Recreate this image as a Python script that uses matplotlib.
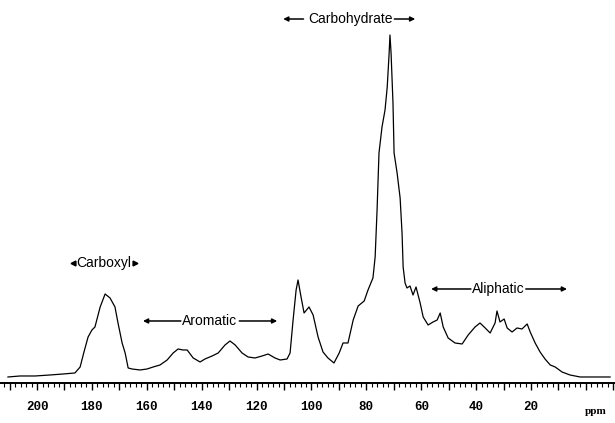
import numpy as np
import matplotlib
matplotlib.use("Agg")
import matplotlib.pyplot as plt
from matplotlib.ticker import MultipleLocator, FuncFormatter

# 13C NMR spectrum (ppm, relative intensity)
ppm = [210.6, 206.2, 200.7, 195.3, 190.5, 186.2, 184.3, 182.9, 181.4, 180.0,
       178.9, 177.0, 175.2, 173.4, 171.6, 170.5, 169.0, 167.9, 166.8, 165.4,
       162.5, 159.9, 157.7, 155.2, 152.6, 150.4, 148.6, 146.8, 145.3, 143.1,
       140.6, 138.8, 136.2, 134.0, 131.5, 129.7, 127.8, 125.3, 123.1, 120.6,
       118.0, 115.8, 113.3, 111.4, 108.9, 107.8, 106.7, 105.6, 104.9, 103.8,
       102.7, 100.9, 99.4, 97.6, 95.8, 94.0, 91.8, 89.9, 88.5, 86.7,
       84.8, 83.0, 80.8, 79.4, 77.6, 76.8, 76.1, 75.4, 74.3, 73.2,
       72.4, 71.7, 71.4, 71.0, 70.3, 69.9, 68.8, 67.7, 67.0, 66.6,
       65.9, 65.2, 64.1, 63.0, 61.9, 60.4, 59.3, 57.5, 55.7, 54.2,
       53.1, 52.0, 50.2, 47.7, 45.1, 42.9, 40.4, 38.6, 36.7, 34.9,
       33.1, 32.4, 31.3, 29.8, 28.7, 26.9, 25.1, 23.3, 21.4, 20.3,
       18.5, 16.7, 14.9, 13.0, 11.2, 8.7, 5.8, 2.1, -2.6, -8.8]
intensity = [1, 2, 2, 3, 4, 5, 11, 26, 41, 48,
             51, 71, 84, 80, 71, 55, 35, 25, 10, 9,
             8, 9, 11, 13, 18, 25, 29, 28, 28, 20,
             16, 19, 22, 25, 33, 37, 33, 25, 21, 20,
             22, 24, 20, 18, 19, 25, 58, 88, 98, 81,
             65, 71, 63, 41, 26, 20, 15, 25, 35, 35,
             58, 72, 77, 88, 100, 121, 168, 225, 251, 268,
             291, 325, 343, 325, 275, 225, 205, 180, 145, 111,
             95, 90, 92, 83, 91, 75, 61, 53, 56, 58,
             65, 51, 40, 35, 34, 43, 51, 55, 50, 45,
             55, 67, 56, 59, 50, 46, 50, 49, 54, 46,
             35, 26, 19, 13, 11, 6, 3, 1, 1, 1]

tick_values = [200, 180, 160, 140, 120, 100, 80, 60, 40, 20]

# region labels: name, text centre (ppm, intensity), left arrow span, right arrow span
regions = [
    ("Aromatic", 137.0, 57, (147.6, 161.4), (126.3, 112.5)),
    ("Carbohydrate", 85.9, 359, (102.9, 110.3), (69.8, 62.2)),
    ("Aliphatic", 32.0, 89, (41.9, 56.4), (21.9, 6.9)),
]

fig = plt.figure(figsize=(6.15, 4.23), dpi=100)
ax = fig.add_axes([0.0, 0.0946, 1.0, 0.9054])
ax.plot(ppm, intensity, color="black", linewidth=0.9)
ax.set_xlim(213.5, -10.6)
ax.set_ylim(-5, 378)

for side in ["top", "left", "right"]:
    ax.spines[side].set_visible(False)
ax.spines["bottom"].set_linewidth(1.4)
ax.set_yticks([])
ax.xaxis.set_major_locator(MultipleLocator(10))
ax.xaxis.set_minor_locator(MultipleLocator(2))
ax.xaxis.set_major_formatter(FuncFormatter(
    lambda v, pos: f"{int(round(v))}" if int(round(v)) in tick_values else ""))
ax.tick_params(axis="x", which="major", length=5, width=1.0, pad=8)
ax.tick_params(axis="x", which="minor", length=3, width=0.8)
for lbl in ax.get_xticklabels():
    lbl.set_fontfamily("Liberation Mono")
    lbl.set_fontweight("bold")
    lbl.set_fontsize(9)
ax.text(-3.4, -0.075, "ppm", transform=ax.get_xaxis_transform(),
        ha="center", va="center", fontsize=8, fontweight="bold",
        family="Liberation Serif")

# Carboxyl label with small arrowheads
ax.text(175.6, 115, "Carboxyl", ha="center", va="center", fontsize=10,
        family="Liberation Sans")
ax.plot([187.0], [115], marker="<", color="black", markersize=3.5)
ax.plot([164.2], [115], marker=">", color="black", markersize=3.5)

for name, cx, cy, left, right in regions:
    ax.text(cx, cy, name, ha="center", va="center", fontsize=10,
            family="Liberation Sans")
    for start, end in (left, right):
        ax.annotate("", xy=(end, cy), xytext=(start, cy),
                    arrowprops=dict(arrowstyle="-|>", color="black", lw=1.1,
                                    mutation_scale=7, shrinkA=0, shrinkB=0))

fig.savefig("out.png", dpi=100)
